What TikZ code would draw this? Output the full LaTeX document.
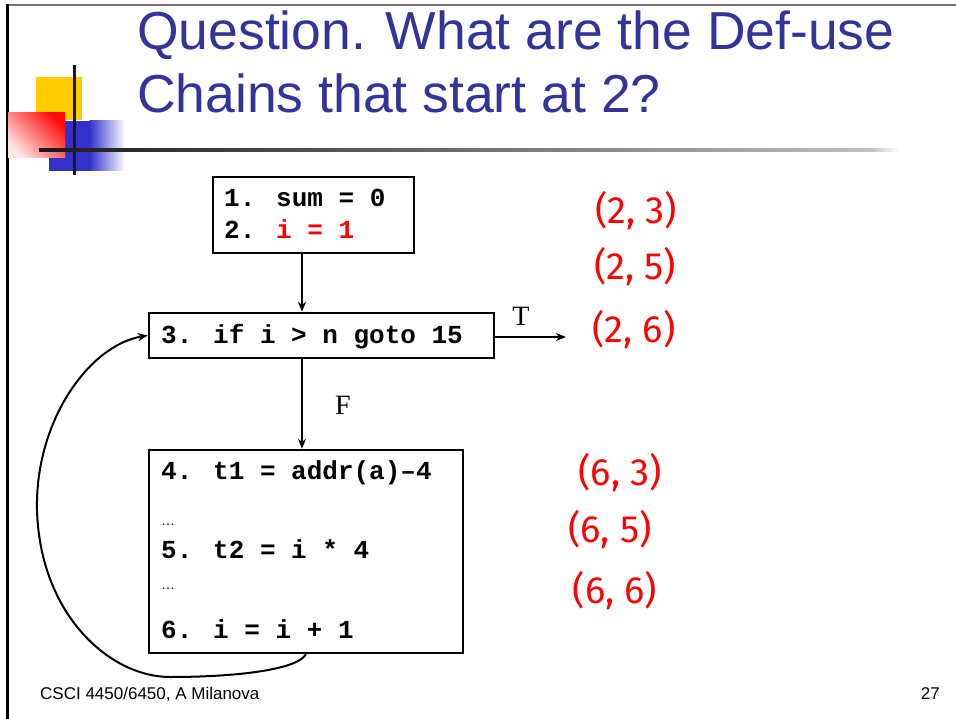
\documentclass[tikz,border=0pt]{standalone}
\usepackage{fontspec}
\setmainfont{Liberation Sans}
\newfontfamily\codefont{Liberation Mono}
\newfontfamily\serifT{Liberation Serif}
\newfontfamily\handfont{Fira Sans}
\usetikzlibrary{arrows.meta}
\definecolor{titleblue}{HTML}{333399}
\definecolor{deco yellow}{HTML}{FFCC00}
\definecolor{deco blue}{HTML}{3333CC}
\begin{document}
\begin{tikzpicture}[x=1pt,y=-1pt,
  box/.style={draw, line width=2.5pt, inner sep=0pt},
  code/.style={font=\codefont\bfseries\fontsize{26}{30}\selectfont, anchor=base west, inner sep=0pt},
  arr/.style={line width=2pt, -{Stealth[length=10pt,width=8pt]}},
  lbl/.style={font=\serifT\fontsize{28}{30}\selectfont, inner sep=0pt},
  hand/.style={text=red, font=\handfont\fontsize{38}{40}\selectfont, inner sep=0pt},
  titletext/.style={font=\fontsize{53.5}{60}\selectfont, text=titleblue, anchor=base west, inner sep=0pt},
  foot/.style={font=\fontsize{17}{20}\selectfont, anchor=base west, inner sep=0pt},
  dots/.style={font=\fontsize{14}{16}\selectfont, anchor=base west, inner sep=0pt}]
\useasboundingbox (0,0) rectangle (956,719);
\fill[white] (0,0) rectangle (956,719);
% frame
\draw[line width=2pt, black!55] (7,5) -- (956,5);
\draw[line width=3pt] (7,4) -- (7,719);
% decoration
\fill[deco yellow] (36,77) rectangle (82,120);
\fill[deco blue] (49,121) rectangle (90,171);
\shade[left color=deco blue, right color=white] (89.5,121) rectangle (125,171);
\shade[bottom color=red!10, top color=red!95, shading angle=-45] (8,113) rectangle (65,158);
\shade[left color=black!90, right color=black!25] (39,148.5) rectangle (870,152);
\shade[left color=black!25, right color=white] (869.5,148.5) rectangle (900,152);
\draw[line width=3pt, black!90] (74,65) -- (74,175);
% title
\node[titletext] (t1) at (137,50) {Question. What are the Def-use};
\node[titletext] (t2) at (137,113) {Chains that start at 2?};
% boxes
\node[box, minimum width=201pt, minimum height=76pt] (b1) at (313.5,215) {};
\node[box, minimum width=345pt, minimum height=45pt] (b2) at (321.5,335.5) {};
\node[box, minimum width=314pt, minimum height=203pt] (b3) at (306,551.5) {};
% code
\node[code] (c1) at (224,207) {1. sum = 0};
\node[code] (c2) at (224,239) {2. \textcolor{red}{i = 1}};
\node[code] (c3) at (161,344) {3. if i > n goto 15};
\node[code] (c4) at (161,479) {4. t1 = addr(a)–4};
\node[dots] (d1) at (161,525) {…};
\node[code] (c5) at (161,558) {5. t2 = i * 4};
\node[dots] (d2) at (161,589) {…};
\node[code] (c6) at (161,638) {6. i = i + 1};
% connectors
\coordinate (tend) at (566,337);
\draw[arr] (b1.south -| 302,0) -- (b2.north -| 302,0);
\draw[arr] (b2.south -| 302,0) -- (b3.north -| 302,0);
\draw[arr] (b2.east |- tend) -- (tend);
\draw[arr] (b3.south) .. controls (297,670) and (235,677) .. (170,677)
  .. controls (110,677) and (40,615) .. (37,510)
  .. controls (35,420) and (90,345) .. (b2.west);
\node[lbl] (T) at (521,316) {T};
\node[lbl] (F) at (343,405) {F};
% annotations
\node[hand] (a1) at (636,211) {(2, 3)};
\node[hand] (a2) at (635,267) {(2, 5)};
\node[hand] (a3) at (634,330) {(2, 6)};
\node[hand] (a4) at (620,473) {(6, 3)};
\node[hand] (a5) at (610,530) {(6, 5)};
\node[hand] (a6) at (615,591) {(6, 6)};
% footer
\node[foot] (ft) at (40,699) {CSCI 4450/6450, A Milanova};
\node[foot, anchor=base east] (pg) at (940,699) {27};
\end{tikzpicture}
\end{document}
